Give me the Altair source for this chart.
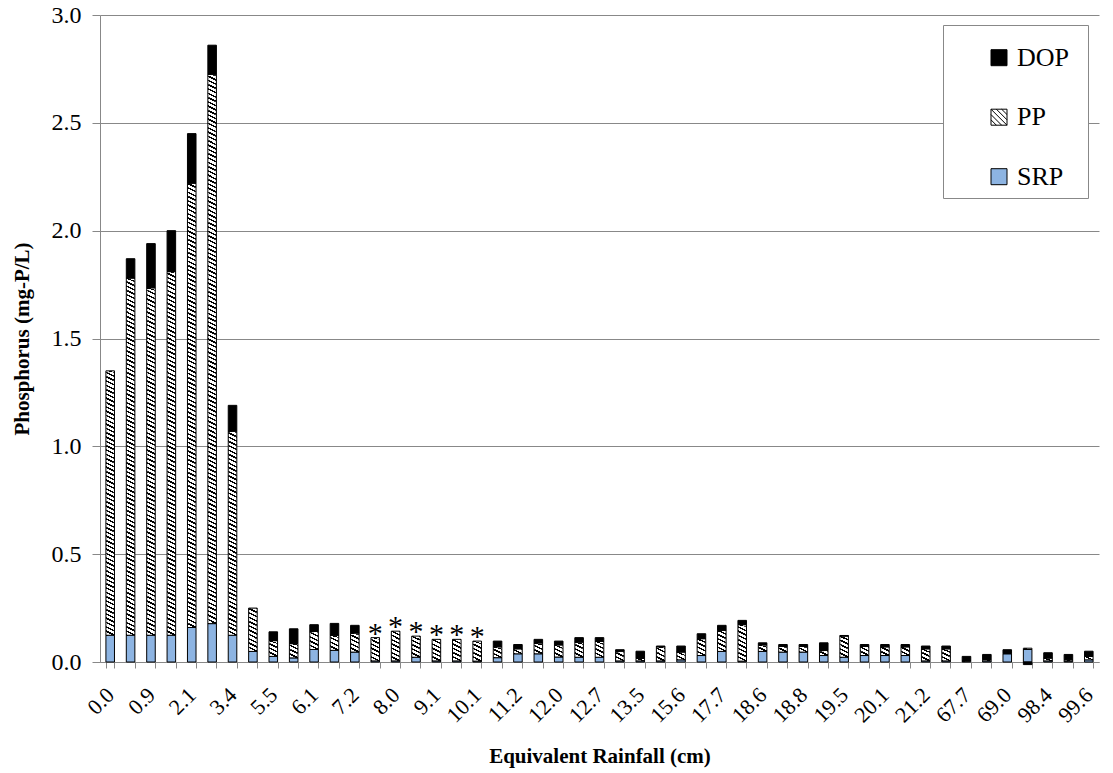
import json

import altair as alt
import pandas as pd

# Equivalent rainfall labels shown under every second column
rain_labels = ["0.0", "0.9", "2.1", "3.4", "5.5", "6.1", "7.2", "8.0", "9.1", "10.1",
               "11.2", "12.0", "12.7", "13.5", "15.6", "17.7", "18.6", "18.8", "19.5",
               "20.1", "21.2", "67.7", "69.0", "98.4", "99.6"]

# Phosphorus fractions (mg-P/L) for each of the 49 samples
srp_vals = [0.124, 0.124, 0.124, 0.124, 0.16, 0.178, 0.124, 0.049, 0.026, 0.019,
            0.058, 0.054, 0.046, 0.005, 0.005, 0.022, 0.005, 0.005, 0.004, 0.02,
            0.038, 0.038, 0.023, 0.022, 0.022, 0.005, 0.005, 0.005, 0.01, 0.03,
            0.049, 0.004, 0.049, 0.046, 0.046, 0.03, 0.022, 0.03, 0.03, 0.03,
            0.005, 0.005, 0.003, 0.005, 0.038, 0.058, 0.005, 0.004, 0.01]
pp_vals = [1.226, 1.656, 1.611, 1.686, 2.06, 2.547, 0.946, 0.201, 0.073, 0.066,
           0.084, 0.07, 0.088, 0.108, 0.138, 0.098, 0.10, 0.10, 0.093, 0.05,
           0.023, 0.05, 0.056, 0.07, 0.073, 0.045, 0.012, 0.065, 0.036, 0.078,
           0.098, 0.169, 0.03, 0.026, 0.026, 0.024, 0.098, 0.042, 0.04, 0.04,
           0.056, 0.056, 0.004, 0.006, 0.002, 0.006, 0.013, 0.006, 0.016]
dop_vals = [0.0, 0.09, 0.205, 0.19, 0.23, 0.135, 0.12, 0.0, 0.041, 0.069,
            0.031, 0.055, 0.036, 0.0, 0.0, 0.0, 0.0, 0.0, 0.0, 0.027,
            0.02, 0.017, 0.018, 0.021, 0.018, 0.007, 0.033, 0.004, 0.028, 0.023,
            0.023, 0.02, 0.01, 0.009, 0.009, 0.035, 0.003, 0.009, 0.011, 0.011,
            0.013, 0.013, 0.019, 0.024, 0.017, -0.012, 0.025, 0.025, 0.024]

# Samples marked with an asterisk
starred_bars = [14, 15, 16, 17, 18, 19]

legend_order = ["DOP", "PP", "SRP"]

SERIF = "Liberation Serif, Times New Roman, Times, serif"
BLUE = "#8DB4E2"
GRID = "#888888"
STEP = 0.02  # height of one hatch repeat, in mg-P/L

bars = pd.DataFrame({
    "bar": list(range(1, len(srp_vals) + 1)),
    "SRP": srp_vals,
    "PP": pp_vals,
    "DOP": dop_vals,
})
bars["starred"] = [b in starred_bars for b in bars["bar"]]

label_expr = (
    f"datum.value % 2 == 1 ? {json.dumps(rain_labels)}[(datum.value - 1) / 2] : ''"
)

x_axis = alt.Axis(
    title="Equivalent Rainfall (cm)",
    titleFont=SERIF, titleFontSize=21, titleFontWeight="bold", titleColor="black",
    titlePadding=19,
    labelExpr=label_expr, labelAngle=-45, labelAlign="right", labelBaseline="middle",
    labelFont=SERIF, labelFontSize=22, labelColor="black", labelPadding=23,
    labelOverlap=False,
    tickBand="extent", tickSize=6, tickColor=GRID, domainColor=GRID, grid=False,
)
y_axis = alt.Axis(
    title="Phosphorus (mg-P/L)",
    titleFont=SERIF, titleFontSize=21, titleFontWeight="bold", titleColor="black",
    titlePadding=19,
    values=[0, 0.5, 1.0, 1.5, 2.0, 2.5, 3.0], format=".1f",
    labelFont=SERIF, labelFontSize=24, labelColor="black", labelPadding=11,
    tickSize=8, tickColor=GRID, domainColor=GRID,
    grid=True, gridColor=GRID, gridWidth=1,
)

x_enc = alt.X("bar:O", scale=alt.Scale(paddingInner=0.58, paddingOuter=0.29), axis=x_axis)
y_scale = alt.Scale(domain=[0, 3], nice=False)


def y_enc(field):
    return alt.Y(field, type="quantitative", scale=y_scale, axis=y_axis)


# diagonal hatch for the particulate fraction: one stripe per STEP-tall tile
w = 0.1
hatch_fill = {
    "gradient": "linear", "x1": 0, "y1": 1, "x2": 1, "y2": 0,
    "stops": [
        {"offset": 0, "color": "black"}, {"offset": w, "color": "black"},
        {"offset": w, "color": "white"}, {"offset": 0.5 - w, "color": "white"},
        {"offset": 0.5 - w, "color": "black"}, {"offset": 0.5 + w, "color": "black"},
        {"offset": 0.5 + w, "color": "white"}, {"offset": 1 - w, "color": "white"},
        {"offset": 1 - w, "color": "black"}, {"offset": 1, "color": "black"},
    ],
}

base = alt.Chart(bars)

srp_layer = base.transform_calculate(
    lo="0", hi="datum.SRP"
).mark_bar(fill=BLUE, stroke="black", strokeWidth=1).encode(
    x=x_enc, y=y_enc("lo"), y2=alt.Y2("hi:Q")
)

pp_hatch = base.transform_filter("datum.PP > 0").transform_calculate(
    seg=f"sequence(0, datum.PP, {STEP})"
).transform_flatten(["seg"]).transform_calculate(
    lo="datum.SRP + datum.seg",
    hi=f"datum.SRP + min(datum.seg + {STEP}, datum.PP)",
).mark_bar(fill=hatch_fill, strokeWidth=0).encode(
    x=x_enc, y=y_enc("lo"), y2=alt.Y2("hi:Q")
)

pp_outline = base.transform_filter("datum.PP > 0").transform_calculate(
    lo="datum.SRP", hi="datum.SRP + datum.PP"
).mark_bar(fill="transparent", stroke="black", strokeWidth=1).encode(
    x=x_enc, y=y_enc("lo"), y2=alt.Y2("hi:Q")
)

dop_layer = base.transform_filter("datum.DOP != 0").transform_calculate(
    lo="datum.DOP > 0 ? datum.SRP + datum.PP : 0",
    hi="datum.DOP > 0 ? datum.SRP + datum.PP + datum.DOP : datum.DOP",
).mark_bar(fill="black", stroke="black", strokeWidth=1).encode(
    x=x_enc, y=y_enc("lo"), y2=alt.Y2("hi:Q")
)

stars = base.transform_filter("datum.starred").transform_calculate(
    top="datum.SRP + datum.PP + max(datum.DOP, 0)"
).mark_text(
    text="*", font=SERIF, fontSize=30, baseline="alphabetic", dy=5
).encode(x=x_enc, y=y_enc("top"), color=alt.value("black"))

hatch_symbol = ("M-1,-1H1V1H-1Z M0.33,-1L1,-0.33 M-0.33,-1L1,0.33 M-1,-1L1,1 "
                "M-1,-0.33L0.33,1 M-1,0.33L-0.33,1")
legend = alt.Legend(
    title="\u2014" * 11, titleFontSize=11.7, titlePadding=0, titleOpacity=0,
    titleFont=SERIF,
    orient="none", legendX=843, legendY=10, direction="vertical",
    padding=8, rowPadding=33.5, symbolSize=256, symbolOffset=35,
    symbolStrokeWidth=1,
    labelFont=SERIF, labelFontSize=26, labelColor="black", labelOffset=5,
    strokeColor=GRID, fillColor="white",
)
legend_layer = alt.Chart(pd.DataFrame({"component": legend_order})).transform_filter(
    "false"
).mark_point(filled=True, opacity=1, strokeWidth=1).encode(
    fill=alt.Fill("component:N",
                  scale=alt.Scale(domain=legend_order, range=["black", "white", BLUE]),
                  legend=legend),
    stroke=alt.Stroke("component:N",
                      scale=alt.Scale(domain=legend_order,
                                      range=["black", "black", "black"]),
                      legend=legend),
    shape=alt.Shape("component:N",
                    scale=alt.Scale(domain=legend_order,
                                    range=["square", hatch_symbol, "square"]),
                    legend=legend),
)

chart = alt.layer(
    srp_layer, pp_hatch, pp_outline, dop_layer, stars, legend_layer
).properties(
    width=999, height=647,
    padding={"left": 100, "top": 15, "right": 14, "bottom": 111},
    autosize=alt.AutoSizeParams(type="none"),
    background="white",
).configure_view(stroke=None)

chart.save("out.html", embed_options={"renderer": "svg", "actions": False})
